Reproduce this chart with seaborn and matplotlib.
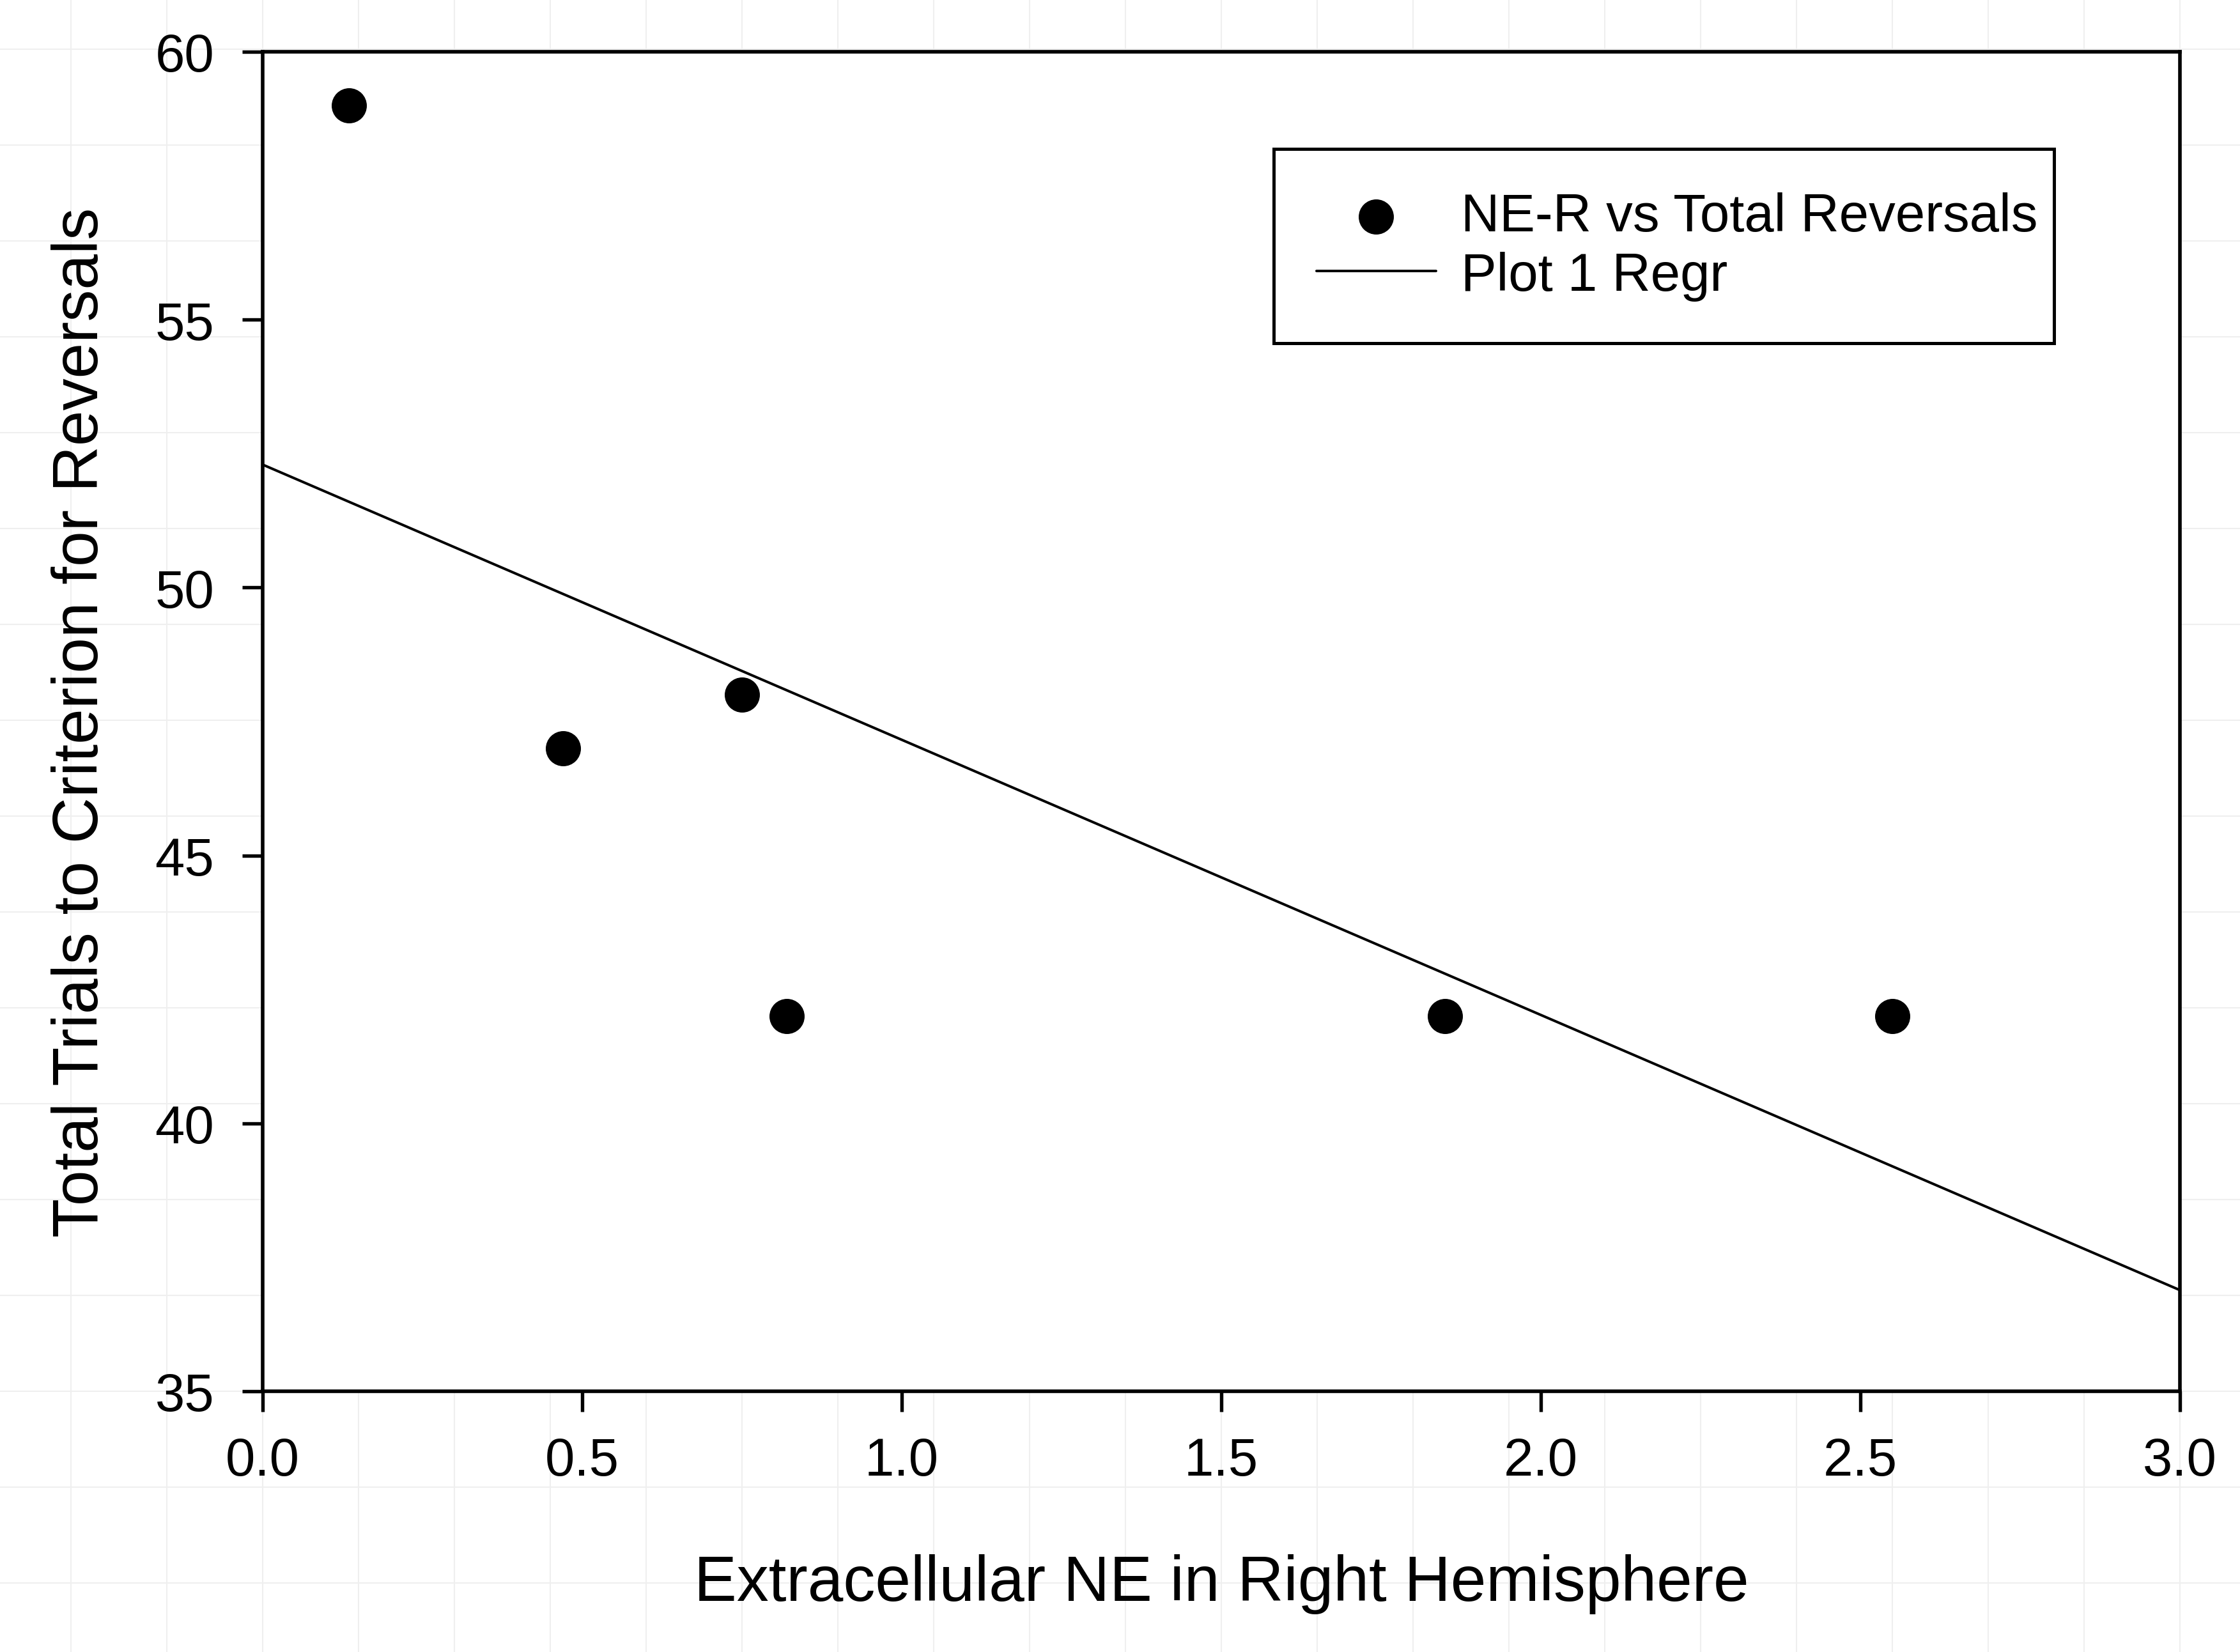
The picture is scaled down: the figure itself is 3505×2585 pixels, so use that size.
import numpy as np
import pandas as pd
import matplotlib
matplotlib.use("Agg")
import matplotlib.pyplot as plt
import seaborn as sns

# ---- data ----
ne_right = [0.135, 0.47, 0.75, 0.82, 1.85, 2.55]
total_reversals = [59, 47, 48, 42, 42, 42]
x_ticks = [0.0, 0.5, 1.0, 1.5, 2.0, 2.5, 3.0]
x_tick_labels = ["0.0", "0.5", "1.0", "1.5", "2.0", "2.5", "3.0"]
y_ticks = [35, 40, 45, 50, 55, 60]
y_tick_labels = ["35", "40", "45", "50", "55", "60"]
x_label = "Extracellular NE in Right Hemisphere"
y_label = "Total Trials to Criterion for Reversals"
series_label = "NE-R vs Total Reversals"
regr_label = "Plot 1 Regr"

df = pd.DataFrame({"ne": ne_right, "rev": total_reversals})

sns.set_theme(style="white")
plt.rcParams["font.family"] = ["Liberation Sans", "DejaVu Sans"]
plt.rcParams.update({
    "text.color": "black",
    "axes.labelcolor": "black",
    "xtick.color": "black",
    "ytick.color": "black",
    "axes.edgecolor": "black",
})

W, H, DPI = 3505, 2586, 300
fig = plt.figure(figsize=(W / DPI, H / DPI), dpi=DPI)
fig.patch.set_facecolor("white")

# faint page grid in the background (outside the plot area)
bg = fig.add_axes([0, 0, 1, 1], zorder=-5)
bg.set_xlim(0, W)
bg.set_ylim(H, 0)
bg.set_xticks(np.arange(411 % 150, W, 150))
bg.set_yticks(np.arange(2178 % 150, H, 150))
bg.grid(True, color="#efefef", linewidth=0.5)
bg.tick_params(length=0, labelbottom=False, labelleft=False)
for s in bg.spines.values():
    s.set_visible(False)
bg.set_facecolor("white")

ax = fig.add_axes([411 / W, (H - 2178) / H, 3000 / W, 2096 / H])
ax.set_facecolor("white")

ax.set_xlim(0, 3)
ax.set_ylim(35, 60)

sns.scatterplot(data=df, x="ne", y="rev", s=13.2 ** 2, color="black",
                edgecolor="black", linewidth=0, label=series_label,
                ax=ax, zorder=3)
ax.set_xlim(0, 3)
sns.regplot(data=df, x="ne", y="rev", scatter=False, ci=None, truncate=False,
            color="black", line_kws=dict(color="black", linewidth=0.96),
            label=regr_label, ax=ax)
ax.set_xlim(0, 3)
ax.set_ylim(35, 60)

ax.set_xticks(x_ticks)
ax.set_xticklabels(x_tick_labels)
ax.set_yticks(y_ticks)
ax.set_yticklabels(y_tick_labels)

for s in ax.spines.values():
    s.set_visible(True)
    s.set_color("black")
    s.set_linewidth(1.35)

ax.tick_params(axis="both", which="major", direction="out", length=7.7,
               width=1.3, labelsize=20, bottom=True, left=True,
               top=False, right=False, colors="black")
ax.tick_params(axis="x", pad=9)
ax.tick_params(axis="y", pad=10.5)

ax.set_xlabel(x_label, fontsize=24)
ax.set_ylabel(y_label, fontsize=24)
ax.xaxis.set_label_coords(0.5, -0.1212)
ax.yaxis.set_label_coords(-0.079, 0.5)

leg = ax.legend(loc="upper left", bbox_to_anchor=(0.5273, 0.9275, 0.407, 0.0),
                mode="expand", borderaxespad=0, fontsize=20, frameon=True,
                fancybox=False, edgecolor="black", framealpha=1,
                handlelength=2.25, handletextpad=0.47, borderpad=0.8,
                labelspacing=0.18, markerscale=1.0)
leg.get_frame().set_linewidth(1.2)

fig.savefig("out.png", dpi=DPI, facecolor="white")
